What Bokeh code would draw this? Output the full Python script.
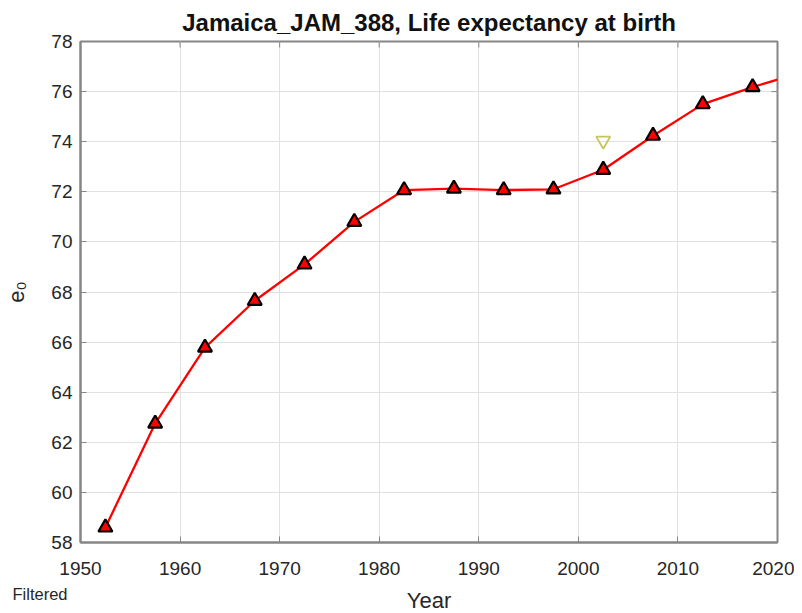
import math
from bokeh.plotting import figure
from bokeh.models import Range1d, Label, FixedTicker
from bokeh.embed import file_html
from bokeh.resources import INLINE

# data
years = [1952.5, 1957.5, 1962.5, 1967.5, 1972.5, 1977.5, 1982.5, 1987.5,
         1992.5, 1997.5, 2002.5, 2007.5, 2012.5, 2017.5]
e0 = [58.6, 62.75, 65.78, 67.65, 69.1, 70.8, 72.07, 72.13,
      72.07, 72.1, 72.88, 74.24, 75.5, 76.18]
line_years = years + [2020.0]
line_e0 = e0 + [76.48]
other_years = [2002.5]
other_e0 = [74.04]
x_ticks = [1950, 1960, 1970, 1980, 1990, 2000, 2010, 2020]
y_ticks = [58, 60, 62, 64, 66, 68, 70, 72, 74, 76, 78]

FONT = "Liberation Sans"
AX = "#868686"
TXT = "#262626"
X0, X1, Y0, Y1 = 1950, 2020, 58, 78

p = figure(frame_width=697, frame_height=501, output_backend="svg",
           toolbar_location=None, x_range=Range1d(X0, X1),
           y_range=Range1d(Y0, Y1), min_border_left=80, min_border_right=17,
           min_border_top=41, min_border_bottom=63)
p.background_fill_color = "white"
p.border_fill_color = "white"
p.outline_line_color = AX
p.outline_line_width = 2

p.title.text = "Jamaica_JAM_388, Life expectancy at birth"
p.title.text_font = FONT
p.title.text_font_size = "24px"
p.title.text_font_style = "bold"
p.title.text_color = "#111111"
p.title.align = "center"
p.title.offset = 0
p.title.standoff = 11

for ax, ticks in ((p.xaxis[0], x_ticks), (p.yaxis[0], y_ticks)):
    ax.ticker = FixedTicker(ticks=ticks)
    ax.axis_line_color = AX
    ax.axis_line_width = 2
    ax.major_tick_line_color = AX
    ax.major_tick_in = 6
    ax.major_tick_out = 0
    ax.minor_tick_line_color = None
    ax.major_label_text_font = FONT
    ax.major_label_text_font_size = "19px"
    ax.major_label_text_color = TXT
    ax.axis_label_text_font = FONT
    ax.axis_label_text_font_size = "22px"
    ax.axis_label_text_font_style = "normal"
    ax.axis_label_text_color = TXT

p.xaxis.axis_label = "Year"
p.yaxis.axis_label = "e\u2080"
p.xaxis.major_label_standoff = 19
p.yaxis.major_label_standoff = 8
p.xaxis.axis_label_standoff = 10
p.yaxis.axis_label_standoff = 19

# inward ticks on the top and right edges of the box
p.ray(x=x_ticks, y=[Y1] * len(x_ticks), length=6, length_units="screen",
      angle=-math.pi / 2, line_color=AX, line_width=1)
p.ray(x=[X1] * len(y_ticks), y=y_ticks, length=6, length_units="screen",
      angle=math.pi, line_color=AX, line_width=1)

p.xgrid.ticker = FixedTicker(ticks=x_ticks)
p.ygrid.ticker = FixedTicker(ticks=y_ticks)
p.grid.grid_line_color = "#e1e1e1"
p.grid.grid_line_width = 1

p.line(line_years, line_e0, line_color="red", line_width=2.3)
p.scatter(years, e0, marker="triangle", size=14, fill_color="red",
          line_color="black", line_width=2.2)
p.scatter(other_years, other_e0, marker="inverted_triangle", size=14,
          fill_color=None, line_color="#c3c65c", line_width=1.8)

note = Label(x=-68, y=40, x_units="screen", y_units="screen",
             text="Filtered", text_font=FONT, text_font_size="16.5px",
             text_color=TXT, text_baseline="alphabetic")
p.add_layout(note, "below")

open("out.html", "w").write(file_html(p, INLINE))
